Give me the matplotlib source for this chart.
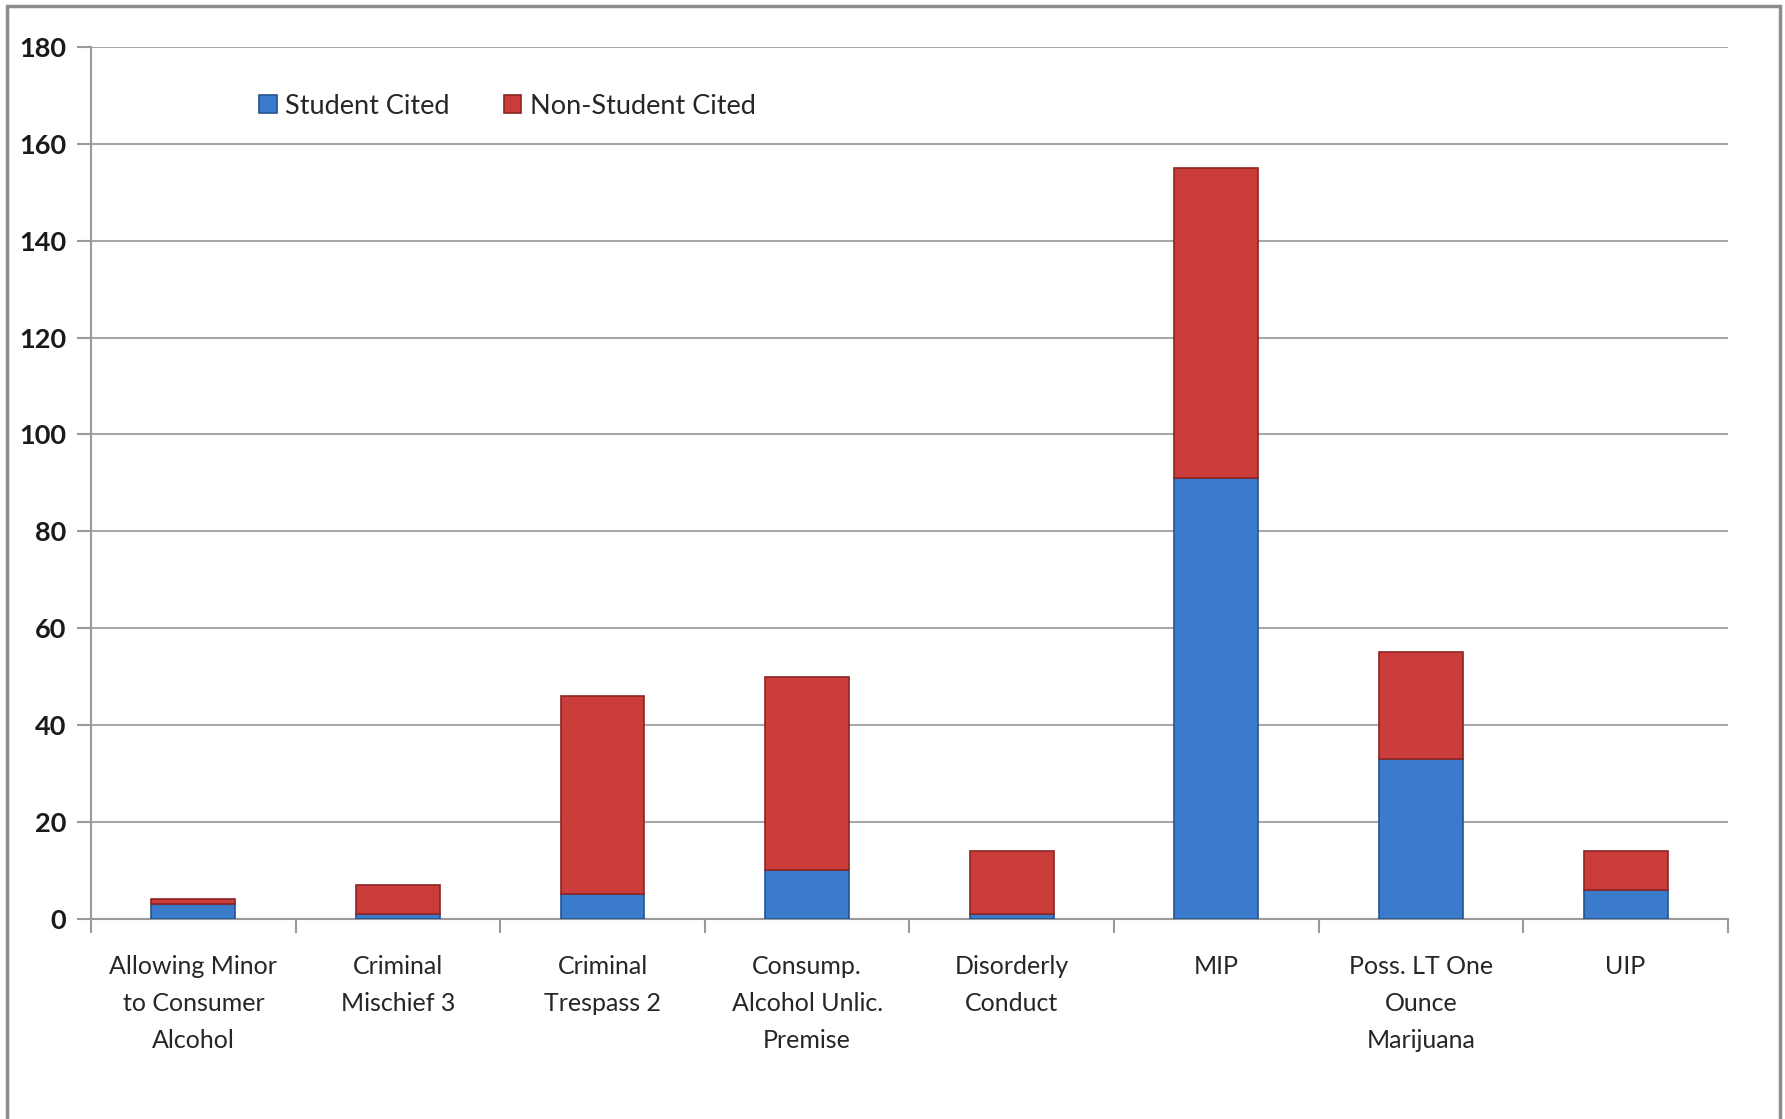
import matplotlib
matplotlib.use("Agg")
import matplotlib.pyplot as plt
from matplotlib.patches import Rectangle
import numpy as np

# citation counts per offense
categories = ["Allowing Minor\nto Consumer\nAlcohol", "Criminal\nMischief 3", "Criminal\nTrespass 2",
              "Consump.\nAlcohol Unlic.\nPremise", "Disorderly\nConduct", "MIP",
              "Poss. LT One\nOunce\nMarijuana", "UIP"]
student_cited = [3, 1, 5, 10, 1, 91, 33, 6]
non_student_cited = [1, 6, 41, 40, 13, 64, 22, 8]
y_ticks = [0, 20, 40, 60, 80, 100, 120, 140, 160, 180]

plt.rcParams['font.family'] = ['Lato', 'DejaVu Sans']

fig = plt.figure(figsize=(17.85, 11.19), dpi=100)
ax = fig.add_axes([0.051, 0.179, 0.917, 0.779])

x = np.arange(len(categories))
w = 0.41
ax.bar(x, student_cited, w, color="#3a7bcc", edgecolor="#24548f", linewidth=1.2,
       label="Student Cited", zorder=3)
ax.bar(x, non_student_cited, w, bottom=student_cited, color="#cb3d3a", edgecolor="#8e2422",
       linewidth=1.2, label="Non-Student Cited", zorder=3)

ax.set_xlim(-0.5, len(categories) - 0.5)
ax.set_ylim(0, 180)
ax.set_yticks(y_ticks)
ax.set_yticklabels([str(v) for v in y_ticks], fontsize=19.5, fontweight="bold", color="#1a1a1a")
ax.tick_params(axis="y", length=10, color="#9a9a9a", width=1.5, pad=8)

ax.set_xticks(x)
ax.set_xticklabels(categories, fontsize=18, linespacing=1.75, color="#262626")
ax.tick_params(axis="x", length=0, pad=26)
ax.set_xticks(np.arange(-0.5, len(categories) + 0.5, 1), minor=True)
ax.tick_params(axis="x", which="minor", length=10, color="#9a9a9a", width=1.5)

ax.grid(axis="y", color="#a8a8a8", linewidth=1.5, zorder=0)
for s in ["top", "right"]:
    ax.spines[s].set_visible(False)
for s in ["left", "bottom"]:
    ax.spines[s].set_color("#9a9a9a")
    ax.spines[s].set_linewidth(1.5)

leg = ax.legend(loc="center left", bbox_to_anchor=(0.088, 0.932), ncol=2, frameon=False,
                fontsize=19.5, handlelength=0.65, handleheight=0.65, handletextpad=0.3,
                columnspacing=2.0)
for t in leg.get_texts():
    t.set_color("#262626")

# outer frame
fig.patches.append(Rectangle((0.004, -0.01), 0.993, 1.005, transform=fig.transFigure,
                             fill=False, edgecolor="#8c8c8c", linewidth=2.5))

fig.savefig("out.png", dpi=100)
